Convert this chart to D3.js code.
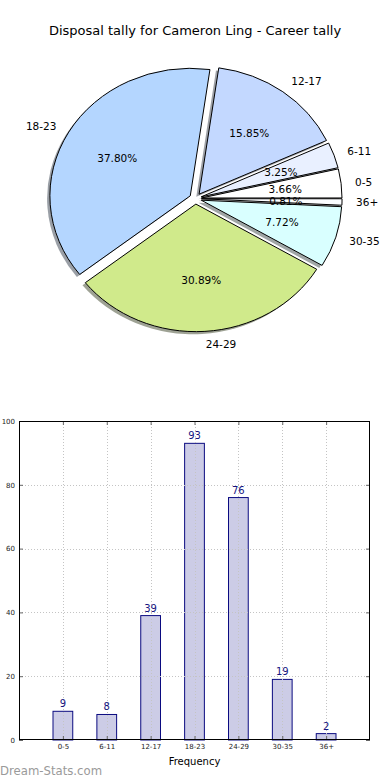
<!DOCTYPE html>
<html>
<head>
<meta charset="utf-8">
<script src="https://cdn.jsdelivr.net/npm/d3@7"></script>
<style>
  html, body { margin: 0; padding: 0; background: #fff; }
  svg { display: block; font-family: "DejaVu Sans", sans-serif; }
</style>
</head>
<body>
<svg id="chart" width="390" height="780"></svg>
<script>
// ---- data ----
const title = "Disposal tally for Cameron Ling - Career tally";
const categories = ["0-5", "6-11", "12-17", "18-23", "24-29", "30-35", "36+"];
const counts = [9, 8, 39, 93, 76, 19, 2];
const yTickValues = [0, 20, 40, 60, 80, 100];
const xLabel = "Frequency";
const watermark = "Dream-Stats.com";

// ---- styles ----
const sliceColors = ["#ffffff", "#e9f0ff", "#c3d8ff", "#b4d6ff", "#d0ea8b", "#d9ffff", "#fbfdff"];

const svg = d3.select("#chart");

// Title
svg.append("text")
  .attr("x", 195).attr("y", 30)
  .attr("text-anchor", "middle").attr("dominant-baseline", "central")
  .attr("font-size", 13).attr("fill", "#000")
  .text(title);

// ---- Pie (elliptical, exploded, shadowed) ----
const cx = 195.5, cy = 198.6, rx = 140.5, ry = 127.6, explode = 0.043;
const total = d3.sum(counts);
const pie = d3.pie().sort(null).value(d => d)
  .startAngle(Math.PI / 2).endAngle(Math.PI / 2 - 2 * Math.PI);
const arcs = pie(counts);
const arcGen = d3.arc().innerRadius(0).outerRadius(1);

function shadowColor(c) {
  const k = d3.rgb(c);
  return d3.rgb(k.r * 0.3, k.g * 0.3, k.b * 0.3).toString();
}
function offset(a) {
  const mid = (a.startAngle + a.endAngle) / 2;
  return { mid, dx: Math.sin(mid) * explode * rx, dy: -Math.cos(mid) * explode * ry };
}

const pieG = svg.append("g");
const sdx = -0.02 * rx, sdy = 0.02 * ry;
pieG.selectAll("path.shadow").data(arcs).join("path")
  .attr("class", "shadow")
  .attr("transform", d => { const o = offset(d); return `translate(${cx + o.dx + sdx},${cy + o.dy + sdy}) scale(${rx},${ry})`; })
  .attr("d", arcGen)
  .attr("fill", (d, i) => shadowColor(sliceColors[i]))
  .attr("fill-opacity", 0.5)
  .attr("stroke", "none");

pieG.selectAll("path.slice").data(arcs).join("path")
  .attr("class", "slice")
  .attr("transform", d => { const o = offset(d); return `translate(${cx + o.dx},${cy + o.dy}) scale(${rx},${ry})`; })
  .attr("d", arcGen)
  .attr("fill", (d, i) => sliceColors[i])
  .attr("stroke", "#000")
  .attr("stroke-width", 1)
  .attr("vector-effect", "non-scaling-stroke");

arcs.forEach((d, i) => {
  const o = offset(d);
  const sx = Math.sin(o.mid), sy = -Math.cos(o.mid);
  const lx = cx + o.dx + 1.1 * rx * sx, ly = cy + o.dy + 1.1 * ry * sy;
  pieG.append("text")
    .attr("x", lx).attr("y", ly)
    .attr("text-anchor", sx > 0 ? "start" : "end")
    .attr("dominant-baseline", "central")
    .attr("font-size", 10.5).attr("fill", "#000")
    .text(categories[i]);
  const px = cx + o.dx + 0.6 * rx * sx, py = cy + o.dy + 0.6 * ry * sy;
  pieG.append("text")
    .attr("x", px).attr("y", py)
    .attr("text-anchor", "middle")
    .attr("dominant-baseline", "central")
    .attr("font-size", 10.5).attr("fill", "#000")
    .text((counts[i] / total * 100).toFixed(2) + "%");
});

// ---- Bar chart ----
const plotLeft = 19, plotRight = 370, plotTop = 421, plotBottom = 740;
const x = d3.scaleLinear().domain([0, categories.length + 1]).range([plotLeft, plotRight]);
const y = d3.scaleLinear().domain([0, 100]).range([plotBottom, plotTop]);
const barW = 0.45;
const barG = svg.append("g");

barG.selectAll("rect.bar").data(counts).join("rect")
  .attr("class", "bar")
  .attr("x", (d, i) => x(i + 1 - barW / 2))
  .attr("width", (d, i) => x(i + 1 + barW / 2) - x(i + 1 - barW / 2))
  .attr("y", d => y(d))
  .attr("height", d => y(0) - y(d))
  .attr("fill", "#ccccE6")
  .attr("stroke", "#0a0a80")
  .attr("stroke-width", 1);

const gridG = barG.append("g")
  .attr("stroke", "#c4c4c4").attr("stroke-width", 1).attr("stroke-dasharray", "1,2");
categories.forEach((c, i) => {
  gridG.append("line")
    .attr("x1", Math.round(x(i + 1)) + 0.5).attr("x2", Math.round(x(i + 1)) + 0.5)
    .attr("y1", plotTop).attr("y2", plotBottom);
});
yTickValues.filter(v => v > 0 && v < 100).forEach(v => {
  gridG.append("line")
    .attr("x1", plotLeft).attr("x2", plotRight)
    .attr("y1", Math.round(y(v)) + 0.5).attr("y2", Math.round(y(v)) + 0.5);
});

barG.selectAll("text.val").data(counts).join("text")
  .attr("class", "val")
  .attr("x", (d, i) => x(i + 1))
  .attr("y", d => y(d) - 4)
  .attr("text-anchor", "middle")
  .attr("font-size", 10).attr("fill", "#141480")
  .text(d => d);

const yAxisL = d3.axisLeft(y).tickValues(yTickValues).tickSize(-4).tickPadding(4).tickFormat(d3.format("d"));
const yAxisR = d3.axisRight(y).tickValues(yTickValues).tickSize(-4).tickFormat("");
const xAxisB = d3.axisBottom(x).tickValues(d3.range(1, categories.length + 1)).tickSize(-4).tickPadding(4)
  .tickFormat(v => categories[v - 1]);
const xAxisT = d3.axisTop(x).tickValues(d3.range(1, categories.length + 1)).tickSize(-4).tickFormat("");

function styleAxis(g) {
  g.select(".domain").remove();
  g.selectAll(".tick line").attr("stroke", "#666").attr("stroke-width", 1);
  g.selectAll(".tick text").attr("font-size", 7).attr("fill", "#222").attr("font-family", "DejaVu Sans, sans-serif");
}
svg.append("g").attr("transform", `translate(${plotLeft},0)`).call(yAxisL).call(styleAxis);
svg.append("g").attr("transform", `translate(${plotRight},0)`).call(yAxisR).call(styleAxis);
svg.append("g").attr("transform", `translate(0,${plotBottom})`).call(xAxisB).call(styleAxis);
svg.append("g").attr("transform", `translate(0,${plotTop})`).call(xAxisT).call(styleAxis);

svg.append("rect")
  .attr("x", plotLeft + 0.5).attr("y", plotTop + 0.5)
  .attr("width", plotRight - plotLeft - 1).attr("height", plotBottom - plotTop - 1)
  .attr("fill", "none").attr("stroke", "#000").attr("stroke-width", 1);

svg.append("text")
  .attr("x", (plotLeft + plotRight) / 2).attr("y", 761)
  .attr("text-anchor", "middle").attr("dominant-baseline", "central")
  .attr("font-size", 10).attr("fill", "#000")
  .text(xLabel);

svg.append("text")
  .attr("x", 0).attr("y", 775)
  .attr("font-size", 11.7).attr("fill", "#9a9a9a")
  .text(watermark);
</script>
</body>
</html>
